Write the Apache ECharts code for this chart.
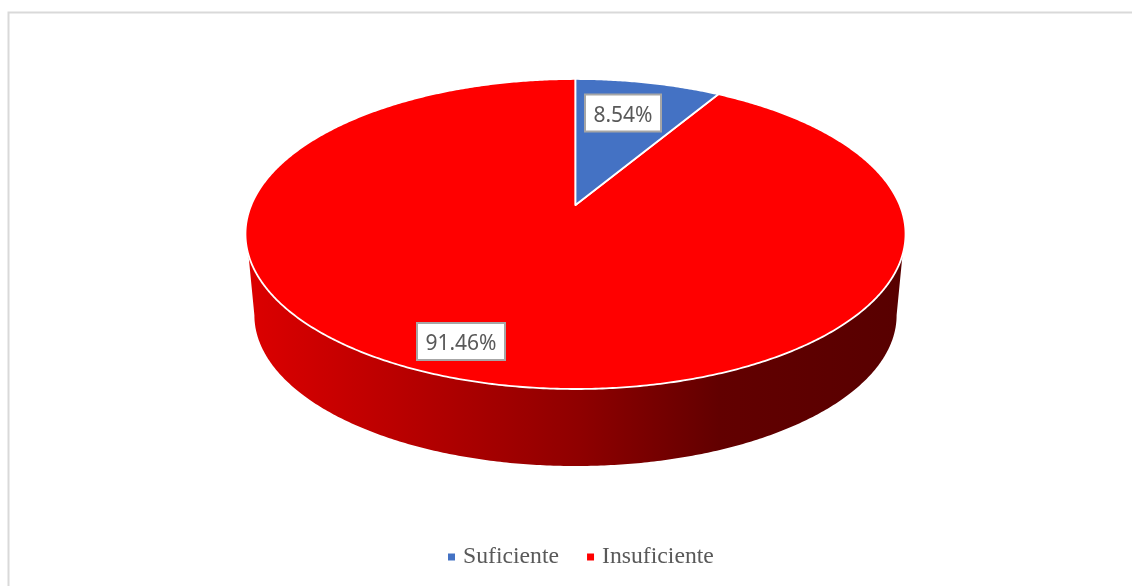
<!DOCTYPE html>
<html><head><meta charset="utf-8">
<style>html,body{margin:0;padding:0;background:#fff}#c{width:1132px;height:586px}</style>
<script src="https://cdn.jsdelivr.net/npm/echarts@6/dist/echarts.min.js"></script>
</head><body><div id="c"></div>
<script>
const categories = ['Suficiente', 'Insuficiente'];
const seriesValues = [8.54, 91.46];
const sliceColors = ['#4472C4', '#FF0000'];
const labelOffsets = [[47.5, -92], [-114.5, 136.5]];
const labelBoxes = [[76, 37], [88, 37]];

// perspective disc: apex position, radii and foreshortening factor
const disc = {cx: 575.5, cy: 205, a: 324.2, b: 149.6, k: 0.187};
const base = {dy: 82, s: 0.973};
const total = seriesValues.reduce((p, c) => p + c, 0);

function project(deg, dy, s) {
  const t = deg * Math.PI / 180, u = Math.sin(t), v = -Math.cos(t), w = 1 - disc.k * v;
  return [disc.cx + s * disc.a * u / w, disc.cy + dy + s * disc.b * v / w];
}
function arc(from, to, dy, s) {
  const n = Math.max(2, Math.ceil(Math.abs(to - from) * 2)), pts = [];
  for (let i = 0; i <= n; i++) pts.push(project(from + (to - from) * i / n, dy, s));
  return pts;
}
const wallGradient = new echarts.graphic.LinearGradient(0, 0, 1, 0, [
  {offset: 0, color: '#dc0000'},
  {offset: 0.5, color: '#900000'},
  {offset: 0.72, color: '#620000'},
  {offset: 1, color: '#580000'}
]);

function makeSeries(idx) {
  return {
    type: 'custom',
    name: categories[idx],
    coordinateSystem: 'none',
    silent: true,
    animation: false,
    clip: false,
    itemStyle: {color: sliceColors[idx]},
    data: [[seriesValues[idx], seriesValues.slice(0, idx).reduce((p, c) => p + c, 0)]],
    renderItem(params, api) {
      const value = api.value(0), before = api.value(1);
      const start = before / total * 360, end = (before + value) / total * 360;
      const lx = disc.cx + labelOffsets[idx][0], ly = disc.cy + labelOffsets[idx][1];
      const box = labelBoxes[idx];
      const children = [];
      if (idx === 1) {
        children.push({
          type: 'polygon',
          shape: {points: arc(108.3, 251.7, 0, 1).concat(arc(259.2, 100.8, base.dy, base.s))},
          style: {fill: wallGradient, stroke: null}
        });
      }
      children.push({
        type: 'polygon',
        shape: {points: [project(0, 0, 0)].concat(arc(start, end, 0, 1))},
        style: {fill: sliceColors[idx], stroke: '#ffffff', lineWidth: 1.8, lineJoin: 'round'}
      });
      children.push({
        type: 'rect',
        z2: 9,
        shape: {x: lx - box[0] / 2, y: ly - box[1] / 2, width: box[0], height: box[1]},
        style: {fill: '#ffffff', stroke: '#a6a6a6', lineWidth: 2}
      });
      children.push({
        type: 'text',
        z2: 10,
        style: {
          text: value.toFixed(2) + '%',
          x: lx,
          y: ly + 3,
          align: 'center', verticalAlign: 'middle',
          fontFamily: '"Noto Sans", sans-serif', fontSize: 21,
          fill: '#595959'
        }
      });
      return {type: 'group', children};
    }
  };
}

const chart = echarts.init(document.getElementById('c'), null, {renderer: 'canvas'});
chart.setOption({
  animation: false,
  backgroundColor: '#ffffff',
  graphic: [{
    type: 'rect', silent: true, z: 0,
    shape: {x: 8.5, y: 12.5, width: 1140, height: 600},
    style: {fill: 'none', stroke: '#d9d9d9', lineWidth: 2}
  }],
  legend: {
    data: categories,
    left: 443, top: 540,
    orient: 'horizontal',
    icon: 'rect',
    itemWidth: 7, itemHeight: 7, itemGap: 28,
    textStyle: {fontFamily: '"Liberation Serif", serif', fontSize: 23.7, color: '#595959', padding: [0, 0, 0, 3]}
  },
  series: [makeSeries(1), makeSeries(0)]
});
</script></body></html>
